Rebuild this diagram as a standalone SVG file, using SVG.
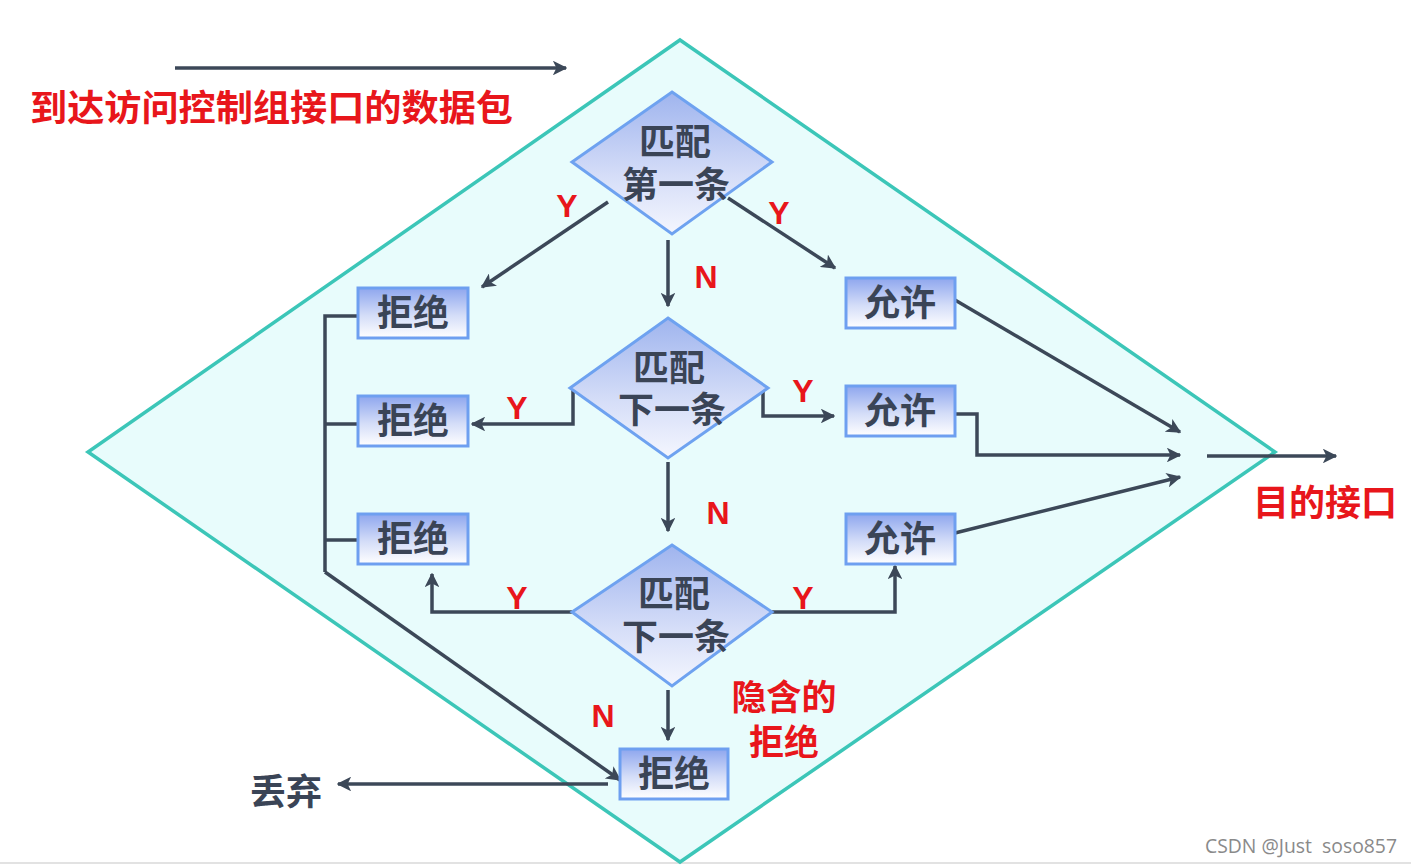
<svg xmlns="http://www.w3.org/2000/svg" width="1411" height="866" viewBox="0 0 1411 866">
<defs>
<linearGradient id="gBox" x1="0" y1="0" x2="0" y2="1">
<stop offset="0" stop-color="#8ea6ee"/>
<stop offset="0.55" stop-color="#d4ddf8"/>
<stop offset="1" stop-color="#ffffff"/>
</linearGradient>
<linearGradient id="gDia" x1="0" y1="0" x2="0" y2="1">
<stop offset="0" stop-color="#9fb4ee"/>
<stop offset="0.6" stop-color="#d6def8"/>
<stop offset="1" stop-color="#f4f6fe"/>
</linearGradient>
<marker id="ah" viewBox="0 0 10 10" refX="9" refY="5" markerWidth="4.2" markerHeight="4.2" orient="auto" markerUnits="strokeWidth">
<path d="M0,0 L10,5 L0,10 L2.5,5 Z" fill="#3c4858"/>
</marker>
<style>
.box{fill:url(#gBox);stroke:#6e9ff0;stroke-width:3}
.dia{fill:url(#gDia);stroke:#6ea2f0;stroke-width:3}
.nt{font-family:"Noto Sans CJK SC",sans-serif;font-weight:bold;font-size:36px;fill:#3a4456;text-anchor:middle}
.red{font-family:"Noto Sans CJK SC",sans-serif;font-weight:bold;fill:#e8161b}
.yn{font-family:"Liberation Sans",Arial,sans-serif;font-weight:bold;font-size:32px;fill:#e8161b;text-anchor:middle}
.c{fill:none;stroke:#3c4858;stroke-width:3.5}
.ca{fill:none;stroke:#3c4858;stroke-width:3.5;marker-end:url(#ah)}
</style>
</defs>
<rect width="1411" height="866" fill="#ffffff"/>
<line x1="0" y1="863" x2="1411" y2="863" stroke="#e2e2e2" stroke-width="2"/>
<g id="region">
<polygon points="680,40 1275,452 680,862 88,452" fill="#e8fcfc" stroke="#3cc6b8" stroke-width="3.5"/>
</g>
<g id="connectors">
<line class="ca" x1="175" y1="68" x2="566" y2="68"/>
<line class="ca" x1="608" y1="202" x2="482" y2="287"/>
<line class="ca" x1="728" y1="198" x2="835" y2="268"/>
<line class="ca" x1="668" y1="240" x2="668" y2="306"/>
<polyline class="ca" points="573,390 573,424 472,424"/>
<polyline class="ca" points="763,390 763,416 834,416"/>
<line class="ca" x1="668" y1="462" x2="668" y2="531"/>
<polyline class="ca" points="572,612 432,612 432,574"/>
<polyline class="ca" points="772,612 895,612 895,566"/>
<line class="ca" x1="668" y1="690" x2="668" y2="740"/>
<polyline class="c" points="358,316 325,316 325,572"/>
<line class="c" x1="325" y1="424" x2="358" y2="424"/>
<line class="c" x1="325" y1="540" x2="358" y2="540"/>
<line class="ca" x1="325" y1="572" x2="620" y2="780"/>
<line class="ca" x1="608" y1="784" x2="338" y2="784"/>
<line class="ca" x1="955" y1="300" x2="1180" y2="432"/>
<polyline class="ca" points="955,414 977,414 977,455 1180,455"/>
<line class="ca" x1="955" y1="533" x2="1180" y2="477"/>
<line class="ca" x1="1207" y1="456" x2="1336" y2="456"/>
<text class="yn" x="567" y="217">Y</text>
<text class="yn" x="779" y="224">Y</text>
<text class="yn" x="706" y="288">N</text>
<text class="yn" x="517" y="419">Y</text>
<text class="yn" x="803" y="402">Y</text>
<text class="yn" x="718" y="524">N</text>
<text class="yn" x="517" y="609">Y</text>
<text class="yn" x="803" y="609">Y</text>
<text class="yn" x="603" y="727">N</text>
</g>
<g id="d1">
<polygon class="dia" points="672,92 772,162 672,234 572,162"/>
<text class="nt"><tspan x="675" y="155">匹配</tspan><tspan x="676" y="198">第一条</tspan></text>
</g>
<g id="d2">
<polygon class="dia" points="668,318 768,388 668,458 570,388"/>
<text class="nt"><tspan x="669" y="381">匹配</tspan><tspan x="672" y="423">下一条</tspan></text>
</g>
<g id="d3">
<polygon class="dia" points="672,545 772,612 672,686 572,612"/>
<text class="nt"><tspan x="674" y="607">匹配</tspan><tspan x="676" y="650">下一条</tspan></text>
</g>
<g id="deny1"><rect class="box" x="358" y="288" width="110" height="50"/><text class="nt" x="413" y="326">拒绝</text></g>
<g id="deny2"><rect class="box" x="358" y="396" width="110" height="50"/><text class="nt" x="413" y="434">拒绝</text></g>
<g id="deny3"><rect class="box" x="358" y="514" width="110" height="50"/><text class="nt" x="413" y="552">拒绝</text></g>
<g id="permit1"><rect class="box" x="846" y="278" width="109" height="50"/><text class="nt" x="900" y="316">允许</text></g>
<g id="permit2"><rect class="box" x="846" y="386" width="109" height="50"/><text class="nt" x="900" y="424">允许</text></g>
<g id="permit3"><rect class="box" x="846" y="514" width="109" height="50"/><text class="nt" x="900" y="552">允许</text></g>
<g id="deny4"><rect class="box" x="620" y="749" width="108" height="50"/><text class="nt" x="674" y="787">拒绝</text></g>
<g id="labels">
<text class="red" x="30" y="121" font-size="36" textLength="483" lengthAdjust="spacingAndGlyphs">到达访问控制组接口的数据包</text>
<text class="red" x="1253" y="516" font-size="36" textLength="144" lengthAdjust="spacingAndGlyphs">目的接口</text>
<text class="red" x="784" y="710" font-size="35" text-anchor="middle">隐含的</text>
<text class="red" x="784" y="755" font-size="35" text-anchor="middle">拒绝</text>
<text class="nt" x="286" y="805" font-size="37">丢弃</text>
<text x="1205" y="853" xml:space="preserve" font-family="'Open Sans','Noto Sans',sans-serif" font-size="20" fill="#8a8a8a" textLength="192" lengthAdjust="spacingAndGlyphs">CSDN @Just  soso857</text>
</g>
</svg>
